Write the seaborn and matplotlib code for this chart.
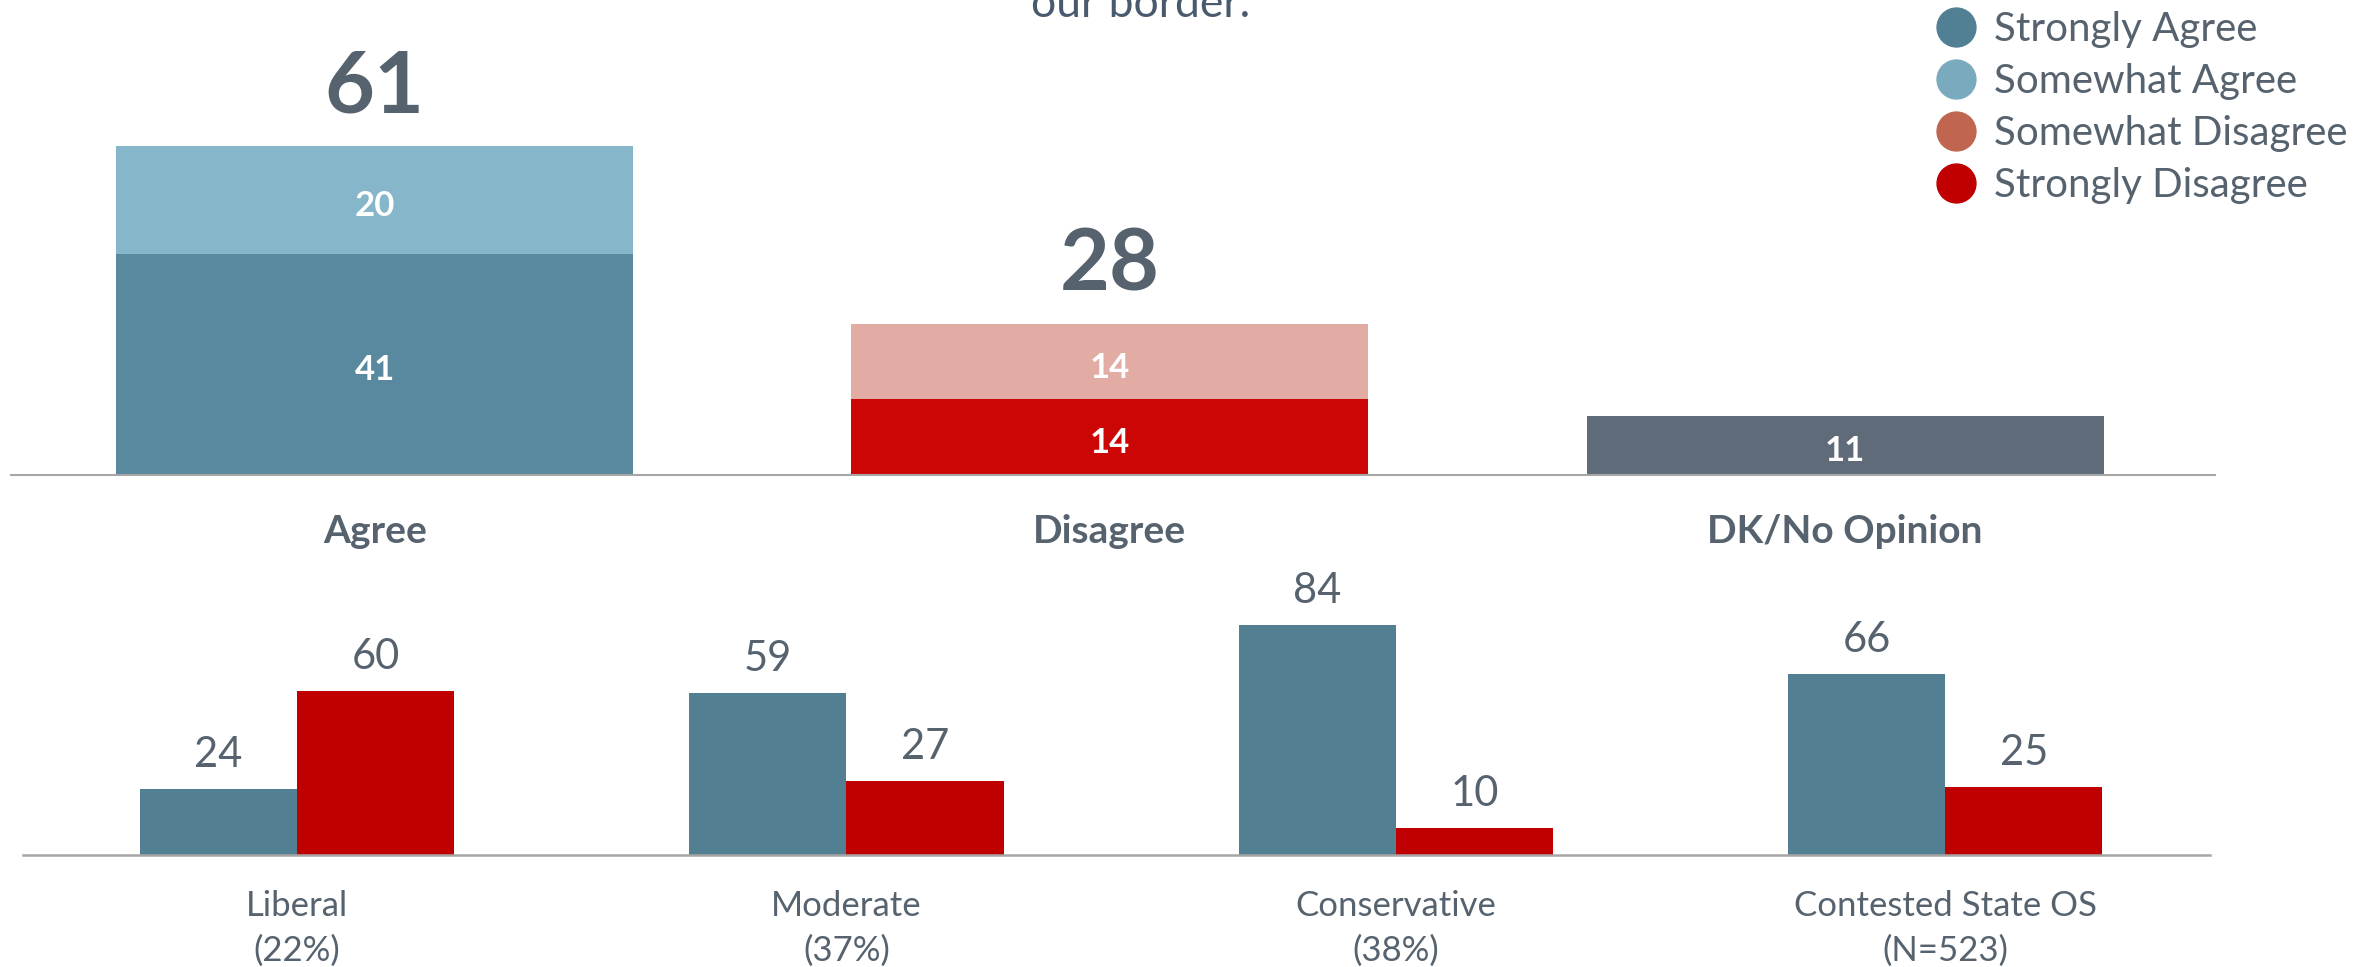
import pandas as pd
import matplotlib.pyplot as plt
import seaborn as sns
from matplotlib.lines import Line2D

# --- data ---
top_cats = ["Agree", "Disagree", "DK/No Opinion"]
strong_vals = [41, 14, 11]      # strongly agree / strongly disagree / DK
somewhat_vals = [20, 14, 0]     # somewhat agree / somewhat disagree

groups = ["Liberal", "Moderate", "Conservative", "Contested State OS"]
group_sizes = ["(22%)", "(37%)", "(38%)", "(N=523)"]
agree_vals = [24, 59, 84, 66]
disagree_vals = [60, 27, 10, 25]

legend_labels = ["Strongly Agree", "Somewhat Agree", "Somewhat Disagree", "Strongly Disagree"]
legend_colors = ["#517f93", "#7aaabd", "#c06550", "#c00000"]

top_base_colors = ["#58899e", "#cc0505", "#5f6b79"]
top_upper_colors = ["#86b6c9", "#e2aca4", "#5f6b79"]
bottom_colors = ["#527f92", "#c00000"]
text_gray = "#56636f"

sns.set_theme(style="white")
plt.rcParams['font.family'] = ['Lato', 'DejaVu Sans']

W, H = 2374, 967
fig = plt.figure(figsize=(W / 100, H / 100), dpi=100)

# top axes: baseline at y=475px, spans x 11..2215
ax1 = fig.add_axes([11 / W, 1 - 475 / H, 2204 / W, 475 / H])
ax1.patch.set_alpha(0)
top_df = pd.DataFrame({"cat": top_cats, "strong": strong_vals, "somewhat": somewhat_vals})
top_df["total"] = top_df["strong"] + top_df["somewhat"]

sns.barplot(data=top_df, x="cat", y="total", hue="cat", palette=top_upper_colors,
            width=0.703, saturation=1, legend=False, linewidth=0, ax=ax1)
sns.barplot(data=top_df, x="cat", y="strong", hue="cat", palette=top_base_colors,
            width=0.703, saturation=1, legend=False, linewidth=0, ax=ax1)
ax1.set_xlim(-0.4946, 2.503)
ax1.set_ylim(0, 88)

for i, row in top_df.iterrows():
    ax1.annotate(str(row["strong"]), xy=(i, row["strong"] / 2), xytext=(0, -16),
                 textcoords="offset pixels", ha="center", va="baseline",
                 fontsize=25, fontweight="bold", color="white")
    if row["somewhat"] > 0:
        ax1.annotate(str(row["somewhat"]), xy=(i, row["strong"] + row["somewhat"] / 2),
                     xytext=(0, -16), textcoords="offset pixels", ha="center",
                     va="baseline", fontsize=25, fontweight="bold", color="white")
        ax1.annotate(str(row["total"]), xy=(i, row["total"]), xytext=(0, 33),
                     textcoords="offset pixels", ha="center", va="baseline",
                     fontsize=62, fontweight="bold", color=text_gray)
    ax1.annotate(row["cat"], xy=(i, 0), xytext=(0, -68), textcoords="offset pixels",
                 ha="center", va="baseline", fontsize=28, fontweight="bold", color=text_gray)

# bottom axes: baseline at y=855px, spans x 23..2210
ax2 = fig.add_axes([23 / W, 1 - 855 / H, 2187 / W, 295 / H])
ax2.patch.set_alpha(0)
bot_df = pd.DataFrame({
    "group": groups * 2,
    "stance": ["Agree"] * len(groups) + ["Disagree"] * len(groups),
    "value": agree_vals + disagree_vals,
})
sns.barplot(data=bot_df, x="group", y="value", hue="stance", palette=bottom_colors,
            width=0.572, saturation=1, legend=False, linewidth=0, ax=ax2)
ax2.set_xlim(-0.499, 3.482)
ax2.set_ylim(0, 107.7)

for bars in ax2.containers:
    for rect in bars:
        h = rect.get_height()
        ax2.annotate(f"{h:.0f}", xy=(rect.get_x() + rect.get_width() / 2, h),
                     xytext=(0, 22), textcoords="offset pixels", ha="center",
                     va="baseline", fontsize=30, color=text_gray)
for i, (g, s) in enumerate(zip(groups, group_sizes)):
    ax2.annotate(g, xy=(i, 0), xytext=(0, -61), textcoords="offset pixels",
                 ha="center", va="baseline", fontsize=25, color=text_gray)
    ax2.annotate(s, xy=(i, 0), xytext=(0, -106), textcoords="offset pixels",
                 ha="center", va="baseline", fontsize=25, color=text_gray)

for ax, lw in ((ax1, 1.5), (ax2, 1.8)):
    sns.despine(ax=ax, left=True)
    ax.spines["bottom"].set_color("#a6a6a6")
    ax.spines["bottom"].set_linewidth(lw)
    ax.set_xticks([])
    ax.set_yticks([])
    ax.set_xlabel("")
    ax.set_ylabel("")

# cut-off title line at the top
fig.text(1141 / W, 1 - 17 / H, "our border.", ha="center", va="baseline",
         fontsize=32, color="#4a5a6e")

handles = [Line2D([0], [0], marker="o", linestyle="", markersize=28,
                  markerfacecolor=c, markeredgecolor=c) for c in legend_colors]
leg = fig.legend(handles, legend_labels, loc="upper left",
                 bbox_to_anchor=(1936 / W, 1 - 11 / H), frameon=False,
                 fontsize=29, handlelength=1.0, handletextpad=0.45,
                 labelspacing=0.37, borderpad=0, borderaxespad=0)
for t in leg.get_texts():
    t.set_color(text_gray)

plt.savefig("out.png", dpi=100)
